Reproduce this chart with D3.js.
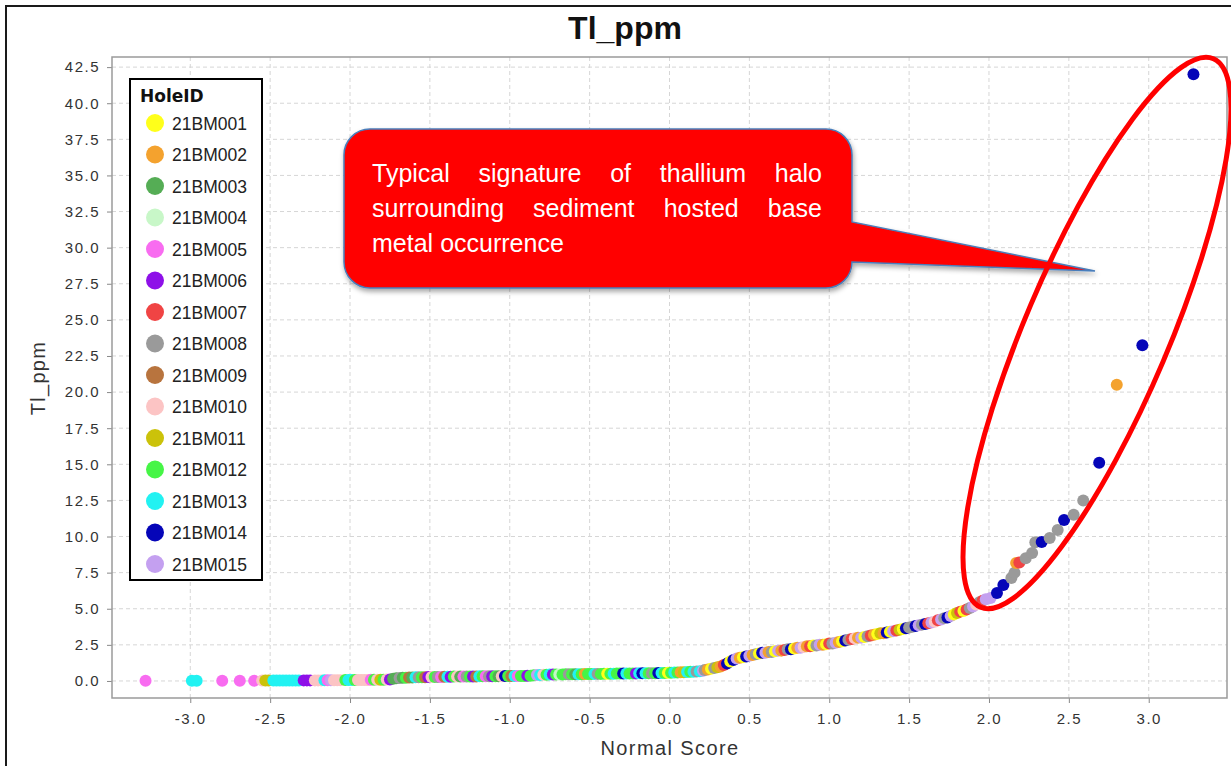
<!DOCTYPE html>
<html>
<head>
<meta charset="utf-8">
<script src="https://cdn.jsdelivr.net/npm/d3@7"></script>
<style>
  body { margin: 0; background: #fff; }
  svg { display: block; }
</style>
</head>
<body>
<svg id="chart" width="1231" height="766"></svg>
<script>
// hole ids and their legend colours
var holeIds = ["21BM001", "21BM002", "21BM003", "21BM004", "21BM005", "21BM006", "21BM007", "21BM008",
  "21BM009", "21BM010", "21BM011", "21BM012", "21BM013", "21BM014", "21BM015"];
var holeColors = ["#ffff1a", "#f4a22e", "#55ad55", "#c8f7c8", "#f86cf0", "#8e10e8", "#f04444", "#9a9a9a",
  "#b8743e", "#fcc4c4", "#cbc20a", "#46f546", "#22f2f2", "#0505b8", "#c4a0f0"];

var xTickValues = [-3.0, -2.5, -2.0, -1.5, -1.0, -0.5, 0.0, 0.5, 1.0, 1.5, 2.0, 2.5, 3.0];
var yTickValues = [0, 2.5, 5, 7.5, 10, 12.5, 15, 17.5, 20, 22.5, 25, 27.5, 30, 32.5, 35, 37.5, 40, 42.5];

// [normal score, Tl ppm, hole index]
var lowTail = [[-3.28, 0.02, 4], [-2.99, 0.02, 12], [-2.96, 0.02, 12], [-2.80, 0.02, 4], [-2.69, 0.02, 4], [-2.60, 0.02, 4]];

var baseBand = [[-2.55, 0.03, 9], [-2.53, 0.03, 10], [-2.51, 0.03, 10], [-2.48, 0.03, 12], [-2.46, 0.03, 12], [-2.44, 0.03, 12],
  [-2.42, 0.03, 12], [-2.40, 0.03, 12], [-2.38, 0.03, 12], [-2.36, 0.03, 12], [-2.34, 0.03, 12], [-2.32, 0.03, 12],
  [-2.29, 0.04, 5], [-2.27, 0.04, 5], [-2.25, 0.04, 5], [-2.22, 0.04, 9], [-2.20, 0.04, 9], [-2.18, 0.04, 9],
  [-2.16, 0.05, 12], [-2.14, 0.05, 4], [-2.12, 0.05, 14], [-2.10, 0.05, 9], [-2.08, 0.05, 9], [-2.06, 0.05, 9],
  [-2.03, 0.06, 11], [-2.01, 0.06, 12], [-1.99, 0.06, 12], [-1.97, 0.06, 11], [-1.95, 0.06, 9], [-1.93, 0.07, 9],
  [-1.91, 0.07, 9], [-1.89, 0.07, 9], [-1.87, 0.08, 4], [-1.85, 0.08, 11], [-1.83, 0.08, 9], [-1.81, 0.09, 10],
  [-1.79, 0.09, 11], [-1.77, 0.1, 9], [-1.75, 0.1, 5], [-1.73, 0.15, 2], [-1.71, 0.18, 2], [-1.69, 0.2, 7],
  [-1.67, 0.22, 2], [-1.65, 0.22, 11], [-1.63, 0.24, 8], [-1.61, 0.24, 2], [-1.59, 0.25, 12], [-1.57, 0.25, 7],
  [-1.55, 0.26, 11], [-1.53, 0.26, 8], [-1.51, 0.27, 5], [-1.49, 0.27, 9], [-1.47, 0.28, 11], [-1.45, 0.28, 7],
  [-1.43, 0.28, 4], [-1.41, 0.29, 8], [-1.39, 0.29, 12], [-1.37, 0.29, 5], [-1.35, 0.3, 11], [-1.33, 0.3, 9],
  [-1.31, 0.3, 2], [-1.29, 0.3, 4], [-1.27, 0.31, 7], [-1.25, 0.31, 11], [-1.23, 0.31, 5], [-1.21, 0.31, 8],
  [-1.19, 0.32, 12], [-1.17, 0.32, 11], [-1.15, 0.32, 4], [-1.13, 0.32, 7], [-1.11, 0.33, 5], [-1.09, 0.33, 11],
  [-1.07, 0.33, 2], [-1.05, 0.33, 9], [-1.03, 0.34, 13], [-1.01, 0.34, 11], [-0.99, 0.34, 8], [-0.97, 0.34, 12],
  [-0.95, 0.35, 4], [-0.93, 0.35, 11], [-0.91, 0.35, 11], [-0.89, 0.36, 5], [-0.87, 0.36, 11], [-0.85, 0.4, 11],
  [-0.83, 0.42, 14], [-0.81, 0.42, 12], [-0.79, 0.43, 9], [-0.77, 0.43, 11], [-0.75, 0.44, 12], [-0.73, 0.44, 5],
  [-0.71, 0.45, 11], [-0.69, 0.45, 3], [-0.67, 0.45, 11], [-0.65, 0.46, 11], [-0.63, 0.46, 7], [-0.61, 0.46, 11],
  [-0.59, 0.47, 2], [-0.57, 0.47, 12], [-0.55, 0.47, 11], [-0.53, 0.48, 1], [-0.51, 0.48, 11], [-0.49, 0.48, 11],
  [-0.47, 0.49, 12], [-0.45, 0.49, 7], [-0.43, 0.49, 11], [-0.41, 0.5, 11], [-0.39, 0.5, 0], [-0.37, 0.5, 11],
  [-0.35, 0.5, 12], [-0.33, 0.51, 11], [-0.31, 0.51, 11], [-0.29, 0.51, 13], [-0.27, 0.52, 12], [-0.25, 0.52, 11],
  [-0.23, 0.52, 11], [-0.21, 0.52, 5], [-0.19, 0.53, 12], [-0.17, 0.53, 13], [-0.15, 0.53, 12], [-0.13, 0.54, 11],
  [-0.11, 0.54, 7], [-0.09, 0.54, 11], [-0.07, 0.55, 13], [-0.05, 0.55, 12], [-0.03, 0.55, 11], [-0.01, 0.56, 0],
  [0.01, 0.57, 11], [0.03, 0.58, 12], [0.05, 0.59, 11], [0.07, 0.6, 1], [0.09, 0.61, 10], [0.11, 0.62, 12],
  [0.13, 0.63, 11], [0.15, 0.64, 12], [0.17, 0.66, 7], [0.19, 0.68, 12], [0.21, 0.7, 14]];

var riseBand = [[0.22, 0.75, 7], [0.24, 0.8, 1], [0.26, 0.85, 0], [0.28, 0.9, 7], [0.30, 0.95, 10], [0.32, 1.0, 1],
  [0.34, 1.1, 6], [0.36, 1.2, 13], [0.38, 1.35, 0], [0.40, 1.45, 13], [0.42, 1.55, 14], [0.44, 1.6, 1],
  [0.46, 1.65, 0], [0.48, 1.7, 13], [0.50, 1.75, 14], [0.52, 1.8, 1], [0.54, 1.85, 7], [0.56, 1.9, 0],
  [0.58, 1.95, 13], [0.60, 1.95, 14], [0.62, 2.0, 1], [0.64, 2.0, 7], [0.66, 2.05, 0], [0.68, 2.1, 14],
  [0.70, 2.1, 1], [0.72, 2.15, 6], [0.74, 2.2, 7], [0.76, 2.2, 13], [0.78, 2.25, 0], [0.80, 2.3, 1],
  [0.82, 2.3, 14], [0.84, 2.35, 9], [0.86, 2.4, 1], [0.88, 2.4, 6], [0.90, 2.45, 0], [0.92, 2.45, 7],
  [0.94, 2.5, 14], [0.96, 2.5, 1], [0.98, 2.55, 0], [1.00, 2.6, 6], [1.02, 2.6, 7], [1.04, 2.65, 14],
  [1.06, 2.7, 1], [1.08, 2.75, 0], [1.10, 2.8, 13], [1.12, 2.85, 7], [1.14, 2.9, 6], [1.16, 2.95, 9],
  [1.18, 3.0, 1], [1.20, 3.0, 14], [1.22, 3.05, 0], [1.24, 3.1, 7], [1.26, 3.15, 6], [1.28, 3.2, 1],
  [1.30, 3.25, 0], [1.32, 3.3, 10], [1.34, 3.3, 1], [1.36, 3.35, 13], [1.38, 3.4, 0], [1.40, 3.45, 14],
  [1.42, 3.5, 6], [1.44, 3.55, 10], [1.46, 3.6, 0], [1.48, 3.65, 13], [1.50, 3.7, 7], [1.52, 3.75, 7],
  [1.54, 3.8, 13], [1.56, 3.85, 14], [1.58, 3.9, 7], [1.60, 3.95, 13], [1.62, 4.0, 6], [1.64, 4.05, 14],
  [1.66, 4.1, 9], [1.68, 4.2, 6], [1.70, 4.25, 14], [1.72, 4.35, 7], [1.74, 4.4, 13], [1.76, 4.5, 14],
  [1.78, 4.6, 0], [1.80, 4.7, 10], [1.82, 4.8, 6], [1.84, 4.85, 0], [1.86, 4.95, 6], [1.88, 5.05, 7],
  [1.90, 5.15, 14], [1.92, 5.3, 9], [1.94, 5.45, 7], [1.96, 5.55, 6], [1.98, 5.65, 14]];

var highTail = [[2.01, 5.74, 14], [2.05, 6.09, 13], [2.09, 6.64, 13], [2.14, 7.13, 7], [2.16, 7.5, 7], [2.17, 8.17, 1],
  [2.19, 8.2, 6], [2.23, 8.5, 7], [2.27, 8.86, 7], [2.29, 9.6, 7], [2.33, 9.62, 13], [2.38, 9.9, 7],
  [2.43, 10.45, 7], [2.47, 11.14, 13], [2.53, 11.5, 7], [2.59, 12.5, 7], [2.69, 15.1, 13], [2.80, 20.5, 1],
  [2.96, 23.25, 13], [3.28, 42.0, 13]];

var calloutLines = ["Typical signature of thallium halo", "surrounding sediment hosted base", "metal occurrence"];

var samples = lowTail.concat(baseBand, riseBand, highTail);

var plot = { left: 112, right: 1227, top: 57, bottom: 698 };
var svg = d3.select("#chart");

// outer frame of the screenshot
svg.append("rect")
  .attr("x", 6).attr("y", 6).attr("width", 1240).attr("height", 800)
  .attr("fill", "#fff").attr("stroke", "#1a1a1a").attr("stroke-width", 2);

var x = d3.scaleLinear().domain([-3.49, 3.49]).range([plot.left, plot.right]);
var y = d3.scaleLinear().domain([-1.18, 43.2]).range([plot.bottom, plot.top]);
// plain hyphen for negatives, like the original
var tickFmt = function (d) { return d3.format(".1f")(d).replace("\u2212", "-"); };

svg.append("text")
  .attr("x", 625).attr("y", 39)
  .attr("text-anchor", "middle")
  .style("font", "bold 32px 'Liberation Sans', Arial, sans-serif")
  .attr("fill", "#111")
  .text("Tl_ppm");

svg.append("rect")
  .attr("x", plot.left).attr("y", plot.top)
  .attr("width", plot.right - plot.left).attr("height", plot.bottom - plot.top)
  .attr("fill", "#fff");

// grid
var grid = svg.append("g").attr("stroke", "#d6d6d6").attr("stroke-dasharray", "4,3");
grid.selectAll("line.v").data(xTickValues).join("line")
  .attr("x1", function (d) { return x(d); }).attr("x2", function (d) { return x(d); })
  .attr("y1", plot.top).attr("y2", plot.bottom);
grid.selectAll("line.h").data(yTickValues).join("line")
  .attr("y1", function (d) { return y(d); }).attr("y2", function (d) { return y(d); })
  .attr("x1", plot.left).attr("x2", plot.right);

// axes
var xAxis = function (g) { return g
  .attr("transform", "translate(0," + plot.bottom + ")")
  .call(d3.axisBottom(x).tickValues(xTickValues).tickFormat(tickFmt).tickSizeOuter(0).tickSize(5).tickPadding(10))
  .call(function (g) { g.select(".domain").remove(); })
  .call(function (g) { g.selectAll("line").attr("stroke", "#888"); })
  .selectAll("text").attr("fill", "#333")
  .style("font", "15px 'Liberation Sans', Arial, sans-serif").style("letter-spacing", "1.5px"); };
var yAxis = function (g) { return g
  .attr("transform", "translate(" + plot.left + ",0)")
  .call(d3.axisLeft(y).tickValues(yTickValues).tickFormat(tickFmt).tickSizeOuter(0).tickSize(5).tickPadding(7))
  .call(function (g) { g.select(".domain").remove(); })
  .call(function (g) { g.selectAll("line").attr("stroke", "#888"); })
  .selectAll("text").attr("fill", "#333")
  .style("font", "15px 'Liberation Sans', Arial, sans-serif").style("letter-spacing", "1.5px"); };
svg.append("g").call(xAxis);
svg.append("g").call(yAxis);

svg.append("text")
  .attr("x", 670).attr("y", 755)
  .attr("text-anchor", "middle")
  .style("font", "20px 'Liberation Sans', Arial, sans-serif").style("letter-spacing", "1.4px")
  .attr("fill", "#333")
  .text("Normal Score");

svg.append("text")
  .attr("transform", "translate(45,378) rotate(-90)")
  .attr("text-anchor", "middle")
  .style("font", "20px 'Liberation Sans', Arial, sans-serif").style("letter-spacing", "1.3px")
  .attr("fill", "#333")
  .text("Tl_ppm");

// points
svg.append("clipPath").attr("id", "plotClip").append("rect")
  .attr("x", plot.left).attr("y", plot.top)
  .attr("width", plot.right - plot.left).attr("height", plot.bottom - plot.top);

svg.append("g")
  .attr("clip-path", "url(#plotClip)")
  .selectAll("circle")
  .data(samples)
  .join("circle")
  .attr("cx", function (d) { return x(d[0]); })
  .attr("cy", function (d) { return y(d[1]); })
  .attr("r", 6)
  .attr("fill", function (d) { return holeColors[d[2]]; });

svg.append("rect")
  .attr("x", plot.left).attr("y", plot.top)
  .attr("width", plot.right - plot.left).attr("height", plot.bottom - plot.top)
  .attr("fill", "none").attr("stroke", "#9a9a9a").attr("stroke-width", 1.5);

// legend
var legend = svg.append("g").attr("transform", "translate(130,79)");
legend.append("rect")
  .attr("width", 132).attr("height", 501)
  .attr("fill", "#fff").attr("stroke", "#000").attr("stroke-width", 2);
legend.append("text")
  .attr("x", 10).attr("y", 23)
  .style("font", "bold 17px 'DejaVu Sans', Verdana, sans-serif")
  .attr("fill", "#111")
  .text("HoleID");
var item = legend.selectAll("g.item").data(holeIds).join("g")
  .attr("class", "item")
  .attr("transform", function (d, i) { return "translate(0," + (44 + i * 31.5) + ")"; });
item.append("circle").attr("cx", 25).attr("cy", 0).attr("r", 9)
  .attr("fill", function (d, i) { return holeColors[i]; });
item.append("text").attr("x", 42).attr("y", 6.5)
  .style("font", "17.5px 'Liberation Sans', Arial, sans-serif")
  .attr("fill", "#222")
  .text(function (d) { return d; });

// callout
var defs = svg.append("defs");
var shadow = defs.append("filter").attr("id", "shadow")
  .attr("x", "-10%").attr("y", "-10%").attr("width", "130%").attr("height", "140%");
shadow.append("feDropShadow").attr("dx", 1).attr("dy", 3).attr("stdDeviation", 2.5)
  .attr("flood-color", "#000").attr("flood-opacity", 0.35);

var box = { left: 344, top: 129, right: 852, bottom: 288, r: 26 };
var tip = [1095, 271];
var cp = d3.path();
cp.moveTo(box.left + box.r, box.top);
cp.lineTo(box.right - box.r, box.top);
cp.arcTo(box.right, box.top, box.right, box.top + box.r, box.r);
cp.lineTo(box.right, 222);
cp.lineTo(tip[0], tip[1]);
cp.lineTo(box.right, 262);
cp.arcTo(box.right, box.bottom, box.right - box.r, box.bottom, box.r);
cp.lineTo(box.left + box.r, box.bottom);
cp.arcTo(box.left, box.bottom, box.left, box.bottom - box.r, box.r);
cp.lineTo(box.left, box.top + box.r);
cp.arcTo(box.left, box.top, box.left + box.r, box.top, box.r);
cp.closePath();
svg.append("path")
  .attr("d", cp.toString())
  .attr("fill", "#ff0000")
  .attr("stroke", "#4a7ebb").attr("stroke-width", 1.5)
  .attr("filter", "url(#shadow)");

var textLeft = 372, textRight = 822;
calloutLines.forEach(function (line, li) {
  var baseY = 182 + li * 35;
  var words = line.split(" ");
  var g = svg.append("g");
  var nodes = words.map(function (w) {
    return g.append("text").attr("y", baseY)
      .style("font", "25px 'Liberation Sans', Arial, sans-serif")
      .attr("fill", "#fff").text(w);
  });
  var widths = nodes.map(function (n) { return n.node().getComputedTextLength(); });
  var gap = 7;
  if (li < calloutLines.length - 1) {
    gap = (textRight - textLeft - d3.sum(widths)) / (words.length - 1);
  }
  var cx = textLeft;
  nodes.forEach(function (n, i) {
    n.attr("x", cx);
    cx += widths[i] + gap;
  });
});

// ellipse around the high tail
svg.append("ellipse")
  .attr("cx", 1097).attr("cy", 333).attr("rx", 298).attr("ry", 72)
  .attr("transform", "rotate(-67 1097 333)")
  .attr("fill", "none").attr("stroke", "#ff0000").attr("stroke-width", 5);
</script>
</body>
</html>
